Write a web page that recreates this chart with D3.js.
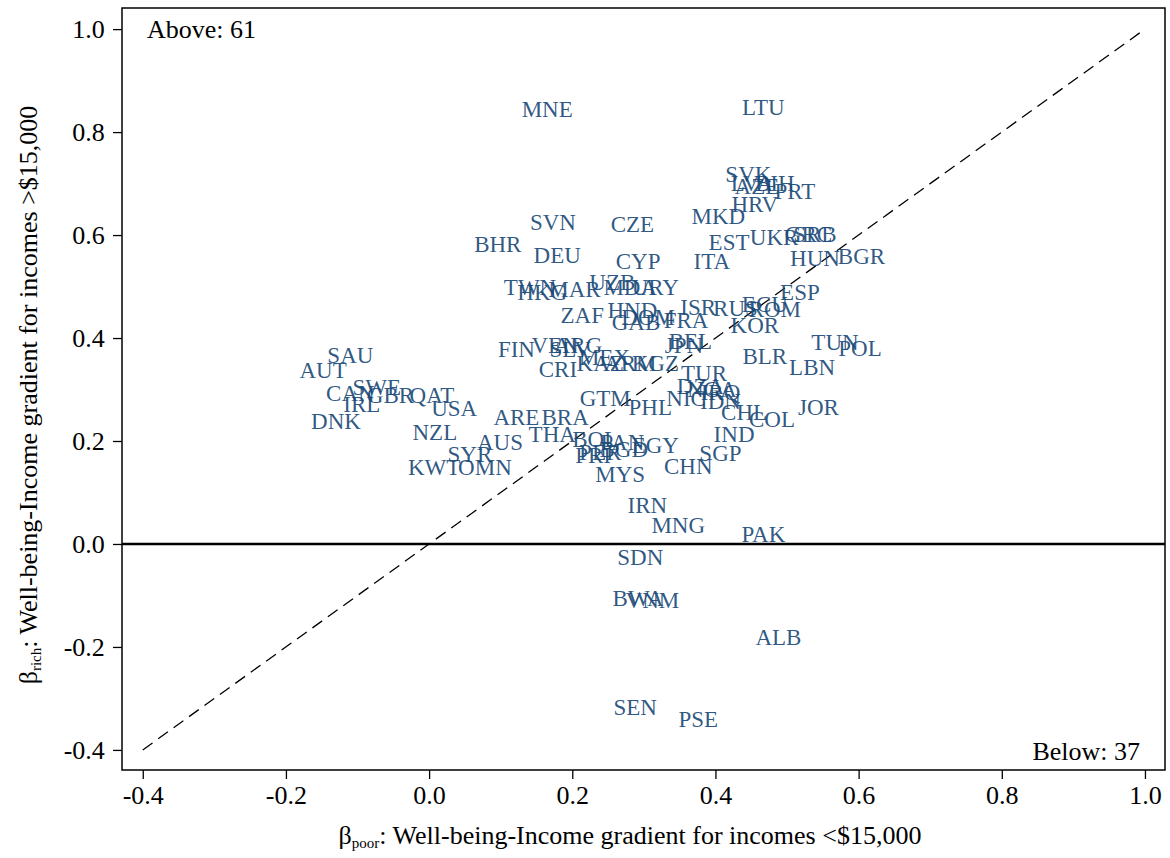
<!DOCTYPE html>
<html><head><meta charset="utf-8">
<script src="https://cdn.jsdelivr.net/npm/d3@7"></script>
<style>body{margin:0;background:#fff}text{font-family:"Liberation Serif","Times New Roman",serif}</style>
</head><body><svg width="1170" height="858"></svg>
<script>
// country codes and their (poor, rich) gradients
var codes = ["MNE","LTU","SVK","LVA","AZE","BIH","PRT","HRV","MKD","SVN","CZE","EST","UKR","GRC","SRB","BHR","DEU","CYP","ITA","HUN","BGR","TWN","HKG","UZB","MAR","MDA","URY","ESP","ZAF","HND","ISR","RUS","ECU","ROM","DOM","GAB","FRA","KOR","TUN","POL","FIN","VEN","ARG","BEL","JPN","SAU","BLR","SLV","MEX","KAZ","ARM","KGZ","AUT","CRI","LBN","TUR","DZA","NGA","IRQ","SWE","CAN","GBR","QAT","IRL","GTM","NIC","PHL","IDN","CHL","COL","USA","JOR","ARE","BRA","DNK","NZL","IND","THA","BOL","PAN","AUS","EGY","PER","PRI","BGD","SYR","SGP","KWT","OMN","CHN","MYS","IRN","MNG","PAK","SDN","BWA","VNM","ALB","SEN","PSE"]
var poorPx = [547,763,748,752,757,775,795,755,718,553,632,729,774,808,815,498,557,638,712,815,861,530,542,612,574,630,655,800,582,632,698,735,765,775,648,636,686,755,835,860,516,555,578,690,684,350,765,570,604,600,630,655,323,558,812,704,700,712,720,377,350,390,432,362,605,686,650,720,744,772,454,818,516,565,336,435,734,552,595,622,500,655,600,593,624,470,720,434,485,688,620,647,678,763,640,638,652,778,635,698]
var richPx = [110,108,175,183,186,183,191,204,216,222,224,242,237,234,234,245,255,262,262,258,256,287,292,283,289,287,287,292,316,310,307,308,304,309,318,322,320,325,342,349,350,345,345,341,345,355,356,350,357,364,363,363,371,370,368,373,387,389,392,388,393,395,395,405,398,398,407,402,412,420,408,407,418,418,422,433,435,435,440,442,442,445,453,456,450,455,454,468,468,466,475,506,526,534,558,598,600,637,707,719]
// convert read pixel positions into data values
var poor = poorPx.map(function (p) { return +((p - 429) / 715.7).toFixed(3) })
var rich = richPx.map(function (p) { return +((544 - p) / 515).toFixed(3) })
var ticks = [-0.4, -0.2, 0, 0.2, 0.4, 0.6, 0.8, 1.0]

var svg = d3.select("svg")
var L = 122, R = 1165, T = 8, B = 770
var x = d3.scaleLinear().domain([-0.429, 1.028]).range([L, R])
var y = d3.scaleLinear().domain([-0.439, 1.041]).range([B, T])
var fmt = function (d) { return d3.format(".1f")(d).replace("−", "-") }

svg.append("rect").attr("x", L).attr("y", T).attr("width", R - L).attr("height", B - T)
    .attr("fill", "none").attr("stroke", "#000").attr("stroke-width", 1.5)

svg.append("g").attr("transform", "translate(0," + B + ")")
    .call(d3.axisBottom(x).tickValues(ticks).tickFormat(fmt).tickSize(9).tickSizeOuter(0))
    .call(function (g) { g.select(".domain").remove(); g.selectAll("line").attr("stroke-width", 1.3); g.selectAll("text").attr("font-size", 26).attr("dy", "0.85em").attr("fill", "#000").style("font-family", "Liberation Serif") })
svg.append("g").attr("transform", "translate(" + L + ",0)")
    .call(d3.axisLeft(y).tickValues(ticks).tickFormat(fmt).tickSize(9).tickSizeOuter(0))
    .call(function (g) { g.select(".domain").remove(); g.selectAll("line").attr("stroke-width", 1.3); g.selectAll("text").attr("font-size", 26).attr("dx", "-0.2em").attr("fill", "#000").style("font-family", "Liberation Serif") })

svg.append("line").attr("x1", x(-0.4)).attr("y1", y(-0.4)).attr("x2", x(1)).attr("y2", y(1))
    .attr("stroke", "#000").attr("stroke-width", 1.3).attr("stroke-dasharray", "12,7")
svg.append("line").attr("x1", L).attr("x2", R).attr("y1", y(0)).attr("y2", y(0))
    .attr("stroke", "#000").attr("stroke-width", 2.5)

svg.append("g").selectAll("text").data(codes).join("text")
    .attr("x", function (d, i) { return x(poor[i]) })
    .attr("y", function (d, i) { return y(rich[i]) })
    .attr("text-anchor", "middle").attr("dominant-baseline", "central")
    .attr("font-size", 23).attr("fill", "#1a4a78").attr("fill-opacity", 0.92)
    .text(function (d) { return d })

svg.append("text").attr("x", 147).attr("y", 38).attr("font-size", 26).text("Above: 61")
svg.append("text").attr("x", 1140).attr("y", 760).attr("text-anchor", "end").attr("font-size", 26).text("Below: 37")

var xl = svg.append("text").attr("x", 630).attr("y", 844).attr("text-anchor", "middle").attr("font-size", 26)
xl.append("tspan").text("β")
xl.append("tspan").attr("font-size", 15).attr("dy", 4).text("poor")
xl.append("tspan").attr("dy", -4).text(": Well-being-Income gradient for incomes <$15,000")
var yl = svg.append("text").attr("transform", "translate(37,395) rotate(-90)").attr("text-anchor", "middle").attr("font-size", 26)
yl.append("tspan").text("β")
yl.append("tspan").attr("font-size", 15).attr("dy", 4).text("rich")
yl.append("tspan").attr("dy", -4).text(": Well-being-Income gradient for incomes >$15,000")
</script></body></html>
